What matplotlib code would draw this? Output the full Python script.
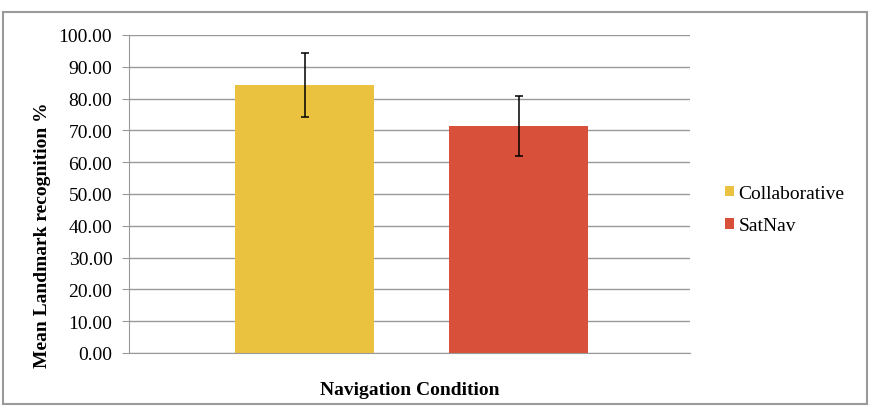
import matplotlib.pyplot as plt
from matplotlib.patches import Rectangle

# data
conditions = ['Collaborative', 'SatNav']
means = [84.2, 71.5]
errors = [10.1, 9.45]
colors = ['#EBC23F', '#D9503A']
yticks = [0, 10, 20, 30, 40, 50, 60, 70, 80, 90, 100]

plt.rcParams['font.family'] = ['Liberation Serif', 'DejaVu Serif']

W, H = 870, 414
fig = plt.figure(figsize=(W / 100, H / 100), dpi=100)
left, right, top, bottom = 129, 690, 36, 354
ax = fig.add_axes([left / W, (H - bottom) / H, (right - left) / W, (bottom - top) / H])

# outer chart border
fig.patches.append(Rectangle((3 / W, 9 / H), 864 / W, 392 / H,
                             transform=fig.transFigure, fill=False,
                             edgecolor='#999999', linewidth=1.5))

for i, (name, m, e, c) in enumerate(zip(conditions, means, errors, colors)):
    ax.bar(i, m, width=0.65, color=c, label=name, zorder=2)
    ax.errorbar(i, m, yerr=e, fmt='none', ecolor='black', elinewidth=1.1,
                capsize=3.2, capthick=1.1, zorder=3)

ax.set_xlim(-0.82, 1.80)
ax.set_ylim(0, 100)
ax.set_yticks(yticks)
ax.set_yticklabels([f'{t:.2f}' for t in yticks], fontsize=14)
ax.set_xticks([])
ax.grid(axis='y', color='#999999', linewidth=1, zorder=0)
ax.tick_params(axis='y', direction='out', length=5, color='#999999', pad=7)
for side in ['top', 'right']:
    ax.spines[side].set_visible(False)
for side in ['left', 'bottom']:
    ax.spines[side].set_color('#999999')

pw, ph = right - left, bottom - top
ax.set_ylabel('Mean Landmark recognition %', fontsize=14, fontweight='bold')
ax.yaxis.set_label_coords((51 - left) / pw, (bottom - 235) / ph)
ax.set_xlabel('Navigation Condition', fontsize=14, fontweight='bold')
ax.xaxis.set_label_coords((410 - left) / pw, -(382 - bottom) / ph)

ax.legend(loc='center left', bbox_to_anchor=((725 - left) / pw, (bottom - 210.5) / ph),
          frameon=False, fontsize=14, borderpad=0, borderaxespad=0,
          handlelength=0.45, handleheight=0.45, handletextpad=0.25,
          labelspacing=0.8)

plt.savefig('out.png', dpi=100)
